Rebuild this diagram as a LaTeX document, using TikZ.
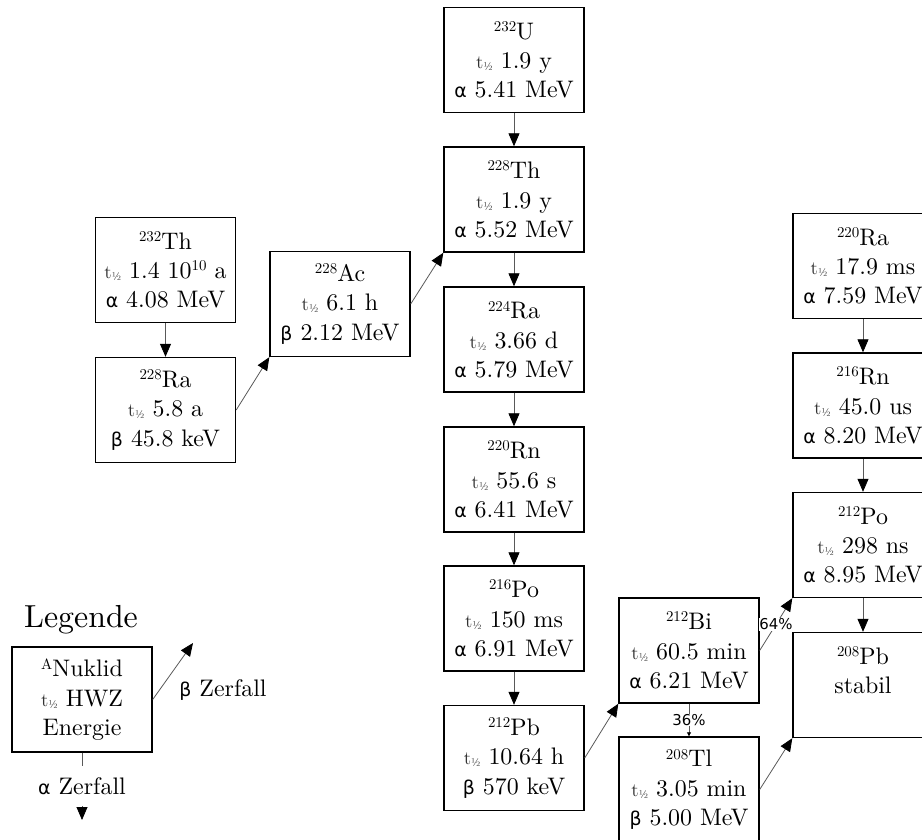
\documentclass[tikz,border=0pt]{standalone}
\usepackage{fontspec}
\setmainfont{lmroman10-regular.otf}
\usetikzlibrary{arrows.meta}
\newfontfamily\grk{DejaVu Sans}
\newcommand\iso[1]{\raisebox{0.75ex}{\fontsize{15}{15}\selectfont #1}}
\newcommand\thalf{{\color{black!80}\fontsize{19}{19}\selectfont t\raisebox{-0.25ex}{\fontsize{11.5}{11.5}\selectfont ½}}}
\newcommand\alp{{\grk\fontsize{19}{23}\selectfont α}}
\newcommand\bet{{\grk\fontsize{19}{23}\selectfont β}}
\newcommand\nukl[5]{\iso{#1}#2\\\thalf\ #3\\#4 #5}
\tikzset{
  nbox/.style={draw, line width=1.4bp, minimum width=140bp, minimum height=105bp,
    inner sep=0pt, align=center, font=\fontsize{24}{29.5}\selectfont},
  edge/.style={draw=black!65, line width=0.8bp, -{Triangle[length=13bp,width=11bp,color=black]}},
  pct/.style={font=\grk\fontsize{15}{15}\selectfont, fill=white, inner sep=0.5bp},
  lbl/.style={font=\fontsize{24}{29.5}\selectfont, fill=white, inner sep=1bp}
}
\begin{document}
\begin{tikzpicture}[x=1bp, y=-1bp]
\path[use as bounding box] (0,0) rectangle (922,840);
\clip (0,0) rectangle (922,840);
% central column
\node[nbox] (u232)  at (514,60)  {\nukl{232}{U}{1.9 y}{\alp}{5.41 MeV}};
\node[nbox] (th228) at (514,199.5) {\nukl{228}{Th}{1.9 y}{\alp}{5.52 MeV}};
\node[nbox] (ra224) at (514,339.5) {\nukl{224}{Ra}{3.66 d}{\alp}{5.79 MeV}};
\node[nbox] (rn220) at (514,479.5) {\nukl{220}{Rn}{55.6 s}{\alp}{6.41 MeV}};
\node[nbox] (po216) at (514,618.5) {\nukl{216}{Po}{150 ms}{\alp}{6.91 MeV}};
\node[nbox] (pb212) at (514,758)   {\nukl{212}{Pb}{10.64 h}{\bet}{570 keV}};
% left
\node[nbox] (th232) at (165.5,270) {\nukl{232}{Th}{1.4 10\iso{10} a}{\alp}{4.08 MeV}};
\node[nbox] (ra228) at (165.5,410) {\nukl{228}{Ra}{5.8 a}{\bet}{45.8 keV}};
\node[nbox] (ac228) at (340,304)   {\nukl{228}{Ac}{6.1 h}{\bet}{2.12 MeV}};
% right
\node[nbox] (ra220) at (863,266)   {\nukl{220}{Ra}{17.9 ms}{\alp}{7.59 MeV}};
\node[nbox] (rn216) at (863,405.5) {\nukl{216}{Rn}{45.0 us}{\alp}{8.20 MeV}};
\node[nbox] (po212) at (863,545)   {\nukl{212}{Po}{298 ns}{\alp}{8.95 MeV}};
\node[nbox] (pb208) at (863,685)   {\iso{208}Pb\\stabil\\\mbox{}};
\node[nbox] (bi212) at (689,650.5) {\nukl{212}{Bi}{60.5 min}{\alp}{6.21 MeV}};
\node[nbox] (tl208) at (689,789.5) {\nukl{208}{Tl}{3.05 min}{\bet}{5.00 MeV}};
% legend
\node[font=\fontsize{32}{32}\selectfont, inner sep=0pt] (legt) at (81,620) {Legende};
\node[nbox] (leg) at (82,699.5) {\iso{A}Nuklid\\\thalf\ HWZ\\Energie};
\coordinate (bend) at (193,643);
\coordinate (aend) at (82,820);
% edges
\draw[edge] (u232.south) -- (th228.north);
\draw[edge] (th228.south) -- (ra224.north);
\draw[edge] (ra224.south) -- (rn220.north);
\draw[edge] (rn220.south) -- (po216.north);
\draw[edge] (po216.south) -- (pb212.north);
\draw[edge] (th232.south) -- (ra228.north);
\draw[edge] (ra228.east) -- (ac228.south west);
\draw[edge] (ac228.east) -- (th228.south west);
\draw[edge] (pb212.east) -- (bi212.south west);
\draw[edge] (bi212.east) -- node[pct, pos=0.5] {64\%} (po212.south west);
\draw[draw=black!65, line width=0.8bp, -{Triangle[length=4bp,width=4bp,color=black]}] (bi212.south) -- node[pct, pos=0.5] {36\%} (tl208.north);
\draw[edge] (tl208.east) -- (pb208.south west);
\draw[edge] (ra220.south) -- (rn216.north);
\draw[edge] (rn216.south) -- (po212.north);
\draw[edge] (po212.south) -- (pb208.north);
\draw[edge] (leg.east) -- (bend);
\node[lbl, anchor=center] (blbl) at (223,690) {\bet\ Zerfall};
\draw[edge] (leg.south) -- node[lbl, minimum height=40bp, pos=0.5] {\alp\ Zerfall} (aend);
\end{tikzpicture}
\end{document}
